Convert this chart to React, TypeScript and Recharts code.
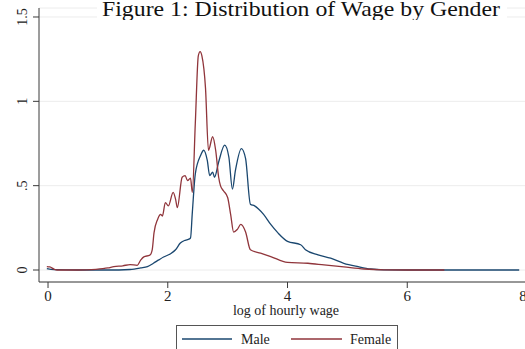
import { LineChart, Line, XAxis, YAxis, CartesianGrid, Legend } from "recharts";

// kernel density of log hourly wage
const maleX = [-0.02, 0.1, 0.5, 1.0, 1.37, 1.55, 1.66, 1.76, 1.85, 1.93, 2.04, 2.13, 2.21, 2.28, 2.33, 2.38, 2.41, 2.46, 2.55, 2.6, 2.66, 2.7, 2.75, 2.78, 2.85, 2.95, 3.02, 3.08, 3.13, 3.23, 3.3, 3.38, 3.45, 3.52, 3.6, 3.72, 3.84, 4.0, 4.22, 4.3, 4.51, 4.72, 4.94, 5.18, 5.39, 5.61, 6.0, 7.87];
const maleY = [0.008, 0.002, 0.0, 0.0, 0.003, 0.012, 0.02, 0.04, 0.06, 0.077, 0.095, 0.12, 0.16, 0.175, 0.18, 0.19, 0.34, 0.57, 0.68, 0.71, 0.65, 0.56, 0.58, 0.55, 0.64, 0.74, 0.67, 0.48, 0.59, 0.72, 0.66, 0.39, 0.38, 0.36, 0.33, 0.27, 0.22, 0.17, 0.15, 0.12, 0.09, 0.07, 0.04, 0.02, 0.006, 0.001, 0, 0];

const femaleX = [-0.02, 0.03, 0.1, 0.15, 0.5, 0.8, 1.0, 1.1, 1.25, 1.37, 1.49, 1.55, 1.6, 1.7, 1.74, 1.77, 1.83, 1.88, 1.91, 1.96, 2.01, 2.09, 2.13, 2.16, 2.24, 2.29, 2.33, 2.38, 2.41, 2.46, 2.51, 2.54, 2.57, 2.63, 2.68, 2.75, 2.8, 2.85, 2.88, 2.93, 3.0, 3.05, 3.1, 3.16, 3.22, 3.3, 3.38, 3.55, 3.72, 4.0, 4.34, 4.61, 4.94, 5.28, 5.61, 6.0, 6.62];
const femaleY = [0.02, 0.018, 0.005, 0.0, 0.0, 0.004, 0.012, 0.02, 0.025, 0.032, 0.028, 0.06, 0.078, 0.088, 0.12, 0.22, 0.3, 0.33, 0.32, 0.4, 0.38, 0.46, 0.42, 0.37, 0.55, 0.56, 0.53, 0.545, 0.46, 0.87, 1.27, 1.295, 1.27, 1.08, 0.71, 0.79, 0.71, 0.55, 0.5, 0.47, 0.43, 0.33, 0.225, 0.24, 0.27, 0.225, 0.12, 0.1, 0.08, 0.045, 0.04, 0.03, 0.018, 0.006, 0.001, 0, 0];

const xTicks = [0, 2, 4, 6, 8];
const yTicks = [0, 0.5, 1, 1.5];
const yTickLabels = ["0", ".5", "1", "1.5"];
const seriesNames = ["Male", "Female"];

const NAVY = "#1a476f";
const MAROON = "#90353b";
const AXIS = "#3a3a3a";
const FONT = "'Liberation Serif', 'Times New Roman', serif";

const maleData = maleX.map((x, i) => ({ x, y: maleY[i] }));
const femaleData = femaleX.map((x, i) => ({ x, y: femaleY[i] }));

const YTick = ({ y, payload }: any) => {
  const idx = yTicks.indexOf(payload.value);
  return (
    <text
      x={27}
      y={y}
      transform={`rotate(-90 27 ${y})`}
      textAnchor="middle"
      fontFamily={FONT}
      fontSize={14}
      fill="#222"
    >
      {yTickLabels[idx] ?? payload.value}
    </text>
  );
};

const XTick = ({ x, y, payload }: any) => (
  <text x={x} y={y} dy={11} textAnchor="middle" fontFamily={FONT} fontSize={15} fill="#222">
    {payload.value}
  </text>
);

const XLabel = ({ viewBox }: any) => (
  <text
    x={viewBox.x + viewBox.width / 2 + 3}
    y={viewBox.y + 33}
    textAnchor="middle"
    fontFamily={FONT}
    fontSize={14}
    fill="#222"
  >
    log of hourly wage
  </text>
);

const LegendBox = () => (
  <div style={{ position: "relative", width: 525, height: 24 }}>
    <div
      style={{
        position: "absolute",
        left: 176,
        top: 0,
        width: 222,
        height: 30,
        border: "1px solid #555",
        background: "#fff",
        boxSizing: "border-box",
      }}
    >
      <svg width={220} height={28} style={{ display: "block" }}>
        <line x1={5} x2={55} y1={13} y2={13} stroke={NAVY} strokeWidth={1.3} />
        <text x={64} y={18} fontFamily={FONT} fontSize={14} fill="#222">
          {seriesNames[0]}
        </text>
        <line x1={114} x2={165} y1={13} y2={13} stroke={MAROON} strokeWidth={1.3} />
        <text x={173} y={18} fontFamily={FONT} fontSize={14} fill="#222">
          {seriesNames[1]}
        </text>
      </svg>
    </div>
  </div>
);

export default function App() {
  return (
    <div
      style={{
        position: "absolute",
        left: 0,
        top: 0,
        width: 525,
        height: 349,
        overflow: "hidden",
        background: "#fff",
      }}
    >
      <LineChart width={527} height={349} margin={{ top: 8, right: 0, bottom: 0, left: 0 }}>
        <CartesianGrid horizontal vertical={false} stroke="#ececec" />
        <XAxis
          type="number"
          dataKey="x"
          domain={[-0.1508, 8]}
          ticks={xTicks}
          allowDataOverflow
          height={43}
          stroke={AXIS}
          tickSize={6}
          tick={<XTick />}
          label={<XLabel />}
        />
        <YAxis
          type="number"
          domain={[-0.0711, 1.5533]}
          ticks={yTicks}
          allowDataOverflow
          width={39}
          stroke={AXIS}
          tickSize={6}
          tick={<YTick />}
        />
        <Legend
          verticalAlign="bottom"
          content={<LegendBox />}
          wrapperStyle={{ left: 0, bottom: 0, width: 525, height: 24 }}
        />
        <Line
          data={maleData}
          dataKey="y"
          name={seriesNames[0]}
          type="monotone"
          stroke={NAVY}
          strokeWidth={1.3}
          dot={false}
          isAnimationActive={false}
        />
        <Line
          data={femaleData}
          dataKey="y"
          name={seriesNames[1]}
          type="monotone"
          stroke={MAROON}
          strokeWidth={1.3}
          dot={false}
          isAnimationActive={false}
        />
      </LineChart>
      <svg
        width={525}
        height={20}
        style={{ position: "absolute", left: 0, top: 0, pointerEvents: "none" }}
      >
        <rect x={97} y={0} width={410} height={19} fill="#fff" />
        <text
          x={301}
          y={16}
          textAnchor="middle"
          fontFamily={FONT}
          fontSize={22}
          fill="#111"
          textLength={398}
          lengthAdjust="spacingAndGlyphs"
        >
          Figure 1: Distribution of Wage by Gender
        </text>
      </svg>
    </div>
  );
}
